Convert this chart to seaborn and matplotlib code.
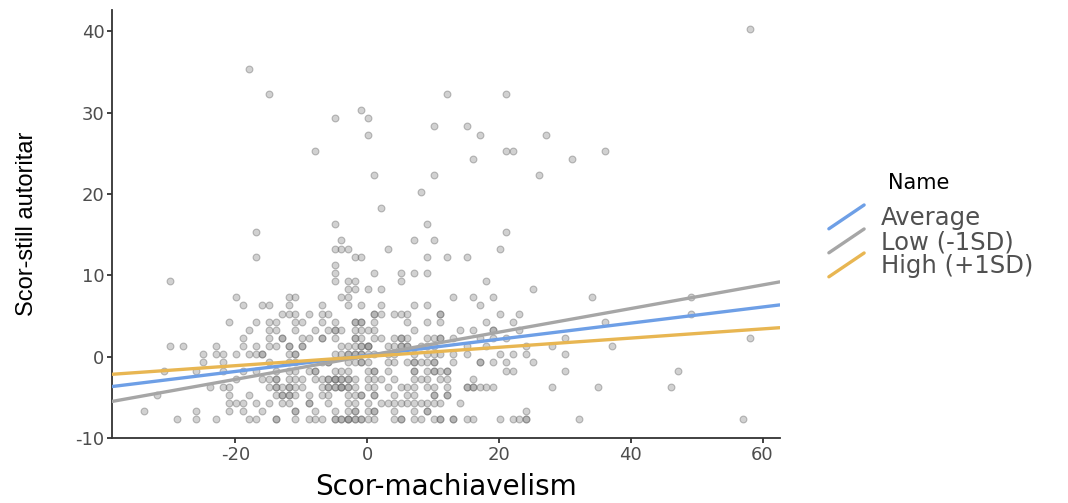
import pandas as pd
import seaborn as sns
import matplotlib.pyplot as plt
from matplotlib.lines import Line2D
from matplotlib.legend_handler import HandlerBase

# scoruri: pentru fiecare nivel y, valorile x de pe acel rand
y_levels = [40, 35, 32, 30, 29, 28, 27, 25, 24, 22, 20, 18, 16, 15, 14, 13, 12, 11, 10, 9, 8, 7, 6,
            5, 4, 3, 2, 1, 0, -1, -2, -3, -4, -5, -6, -7, -8]
x_rows = [
    [58],
    [-18],
    [-15, 12, 21],
    [-1],
    [-5, 0],
    [10, 15],
    [0, 17, 27],
    [-8, 21, 22, 36],
    [16, 31],
    [1, 10, 26],
    [8],
    [2],
    [-5, 9],
    [-17, 21],
    [-4, 7, 10],
    [-5, -4, -3, 3, 20],
    [-17, -2, -1, 9, 12, 15],
    [-5],
    [-5, 1, 5, 7, 9],
    [-30, -5, -3, -2, 5, 18],
    [-3, -2, 0, 2, 25],
    [-20, -12, -11, -4, -3, 13, 16, 19, 34, 49],
    [-19, -16, -15, -12, -7, -3, -1, 2, 7, 9, 17],
    [-13, -12, -11, -9, -7, -6, 1, 1, 2, 4, 5, 6, 11, 11, 20, 23, 49],
    [-21, -17, -15, -14, -11, -10, -7, -5, -2, -2, -1, -1, 1, 6, 9, 11, 18, 22, 36],
    [-18, -15, -14, -11, -8, -6, -5, -5, -4, -2, -1, 0, 1, 7, 14, 16, 19, 19, 23],
    [-19, -15, -13, -13, -10, -9, -7, -7, -5, -2, -2, -1, 1, 2, 4, 5, 5, 6, 9, 10, 11, 11,
     13, 17, 19, 21, 30, 58],
    [-30, -28, -23, -19, -17, -15, -14, -12, -12, -10, -10, -4, -3, -2, -1, -1, 0, 0, 0, 3, 4,
     5, 5, 6, 6, 8, 9, 10, 15, 18, 24, 28, 37],
    [-25, -23, -22, -20, -18, -17, -16, -16, -12, -11, -11, -5, -4, -3, -3, -2, -2, -1, -1, 0,
     1, 3, 4, 7, 9, 10, 11, 13, 15, 20, 22, 24, 30],
    [-25, -22, -15, -12, -11, -7, -6, -6, -3, -2, -1, -1, 0, 3, 4, 6, 7, 7, 8, 9, 10, 10, 13,
     17, 17, 19, 21, 25],
    [-31, -26, -22, -19, -17, -14, -12, -11, -9, -8, -8, -5, -4, -3, 0, 1, 1, 3, 7, 7, 9,
     10, 10, 11, 12, 12, 21, 22, 30, 47],
    [-20, -16, -15, -14, -14, -12, -11, -10, -8, -7, -6, -6, -5, -5, -5, -4, -4, -3, -3, -2,
     0, 1, 2, 4, 7, 8, 9, 11, 12, 16],
    [-24, -22, -21, -15, -14, -14, -13, -12, -12, -11, -10, -7, -6, -6, -5, -5, -4, -4, -4,
     -3, -3, -2, 0, 1, 3, 5, 6, 7, 9, 10, 12, 15, 15, 16, 16, 17, 18, 19, 28, 35, 46],
    [-32, -21, -18, -14, -13, -13, -12, -12, -11, -9, -7, -6, -3, -2, -1, -1, 1, 1, 4, 6, 7,
     10, 10, 12, 12],
    [-21, -20, -19, -17, -15, -13, -12, -9, -9, -6, -3, -2, 0, 2, 3, 4, 5, 6, 7, 8, 9, 10,
     11, 14],
    [-34, -26, -21, -19, -16, -11, -11, -8, -5, -3, -2, -2, 0, 1, 1, 4, 7, 9, 9, 24],
    [-29, -26, -23, -18, -17, -14, -14, -11, -9, -8, -7, -5, -5, -4, -4, -3, -3, -3, -2, -2,
     -1, -1, 0, 1, 4, 5, 5, 7, 8, 10, 11, 11, 13, 13, 15, 16, 20, 22, 23, 24, 24, 32, 57],
]
# scorurile sunt centrate, deci nu cad exact pe valori intregi
x_shift = 0.1
y_shift = 0.3

# pante simple (moderator la -1SD / medie / +1SD)
line_names = ['Average', 'Low (-1SD)', 'High (+1SD)']
line_intercepts = [0.17, 0.12, 0.03]
line_slopes = [0.099, 0.145, 0.0565]
line_colors = ['#6e9fe6', '#a6a6a6', '#e8b652']

xs, ys = [], []
for yv, row in zip(y_levels, x_rows):
    for xv in row:
        xs.append(xv + x_shift)
        ys.append(yv + y_shift)
points = pd.DataFrame({'x': xs, 'y': ys})

xlim = (-38.7, 62.6)
ylim = (-10, 42.6)

lines = []
for name, b0, b1 in zip(line_names, line_intercepts, line_slopes):
    for xv in xlim:
        lines.append({'x': xv, 'y': b0 + b1 * xv, 'Name': name})
lines = pd.DataFrame(lines)

sns.set_theme(style='ticks')
plt.rcParams['font.family'] = ['DejaVu Sans']
plt.rcParams['axes.unicode_minus'] = False

fig = plt.figure(figsize=(10.68, 5.03), dpi=100)
ax = fig.add_axes([0.105, 0.129, 0.625, 0.851])

sns.scatterplot(data=points, x='x', y='y', ax=ax, color='#8c8c8c', alpha=0.4,
                edgecolor='#606060', linewidth=0.8, s=24, legend=False, zorder=2)
sns.lineplot(data=lines, x='x', y='y', hue='Name', hue_order=line_names,
             palette=line_colors, linewidth=2.4, ax=ax, zorder=3)

ax.set_xlim(xlim)
ax.set_ylim(ylim)
ax.set_xticks([-20, 0, 20, 40, 60])
ax.set_yticks([-10, 0, 10, 20, 30, 40])
ax.set_xlabel('Scor-machiavelism', fontsize=20, color='black', labelpad=7)
ax.set_ylabel('Scor-still autoritar', fontsize=17, color='black', labelpad=27,
              family='Liberation Sans')
ax.tick_params(labelsize=13, colors='#333333', labelcolor='#4d4d4d', length=3.5, width=1.3,
               pad=2)
for side in ['left', 'bottom']:
    ax.spines[side].set_color('#333333')
    ax.spines[side].set_linewidth(1.3)
sns.despine(ax=ax)


class DiagHandler(HandlerBase):
    def create_artists(self, legend, orig_handle, xdescent, ydescent, width, height,
                       fontsize, trans):
        ln = Line2D([-xdescent, -xdescent + width], [-ydescent - 0.2 * height, -ydescent + 1.2 * height],
                    color=orig_handle.get_color(), linewidth=2.4, transform=trans)
        return [ln]


handles, labels = ax.get_legend_handles_labels()
ax.get_legend().remove()
fig.legend(handles, labels, loc='upper left', bbox_to_anchor=(0.767, 0.609),
           frameon=False, fontsize=17.5, labelcolor='#505050', handlelength=1.45,
           handletextpad=0.7, labelspacing=0.0, borderaxespad=0,
           handler_map={Line2D: DiagHandler()})
fig.text(888 / 1068, 1 - 183 / 503, 'Name', fontsize=15, color='black', va='center')

fig.savefig('out.png', dpi=100)
